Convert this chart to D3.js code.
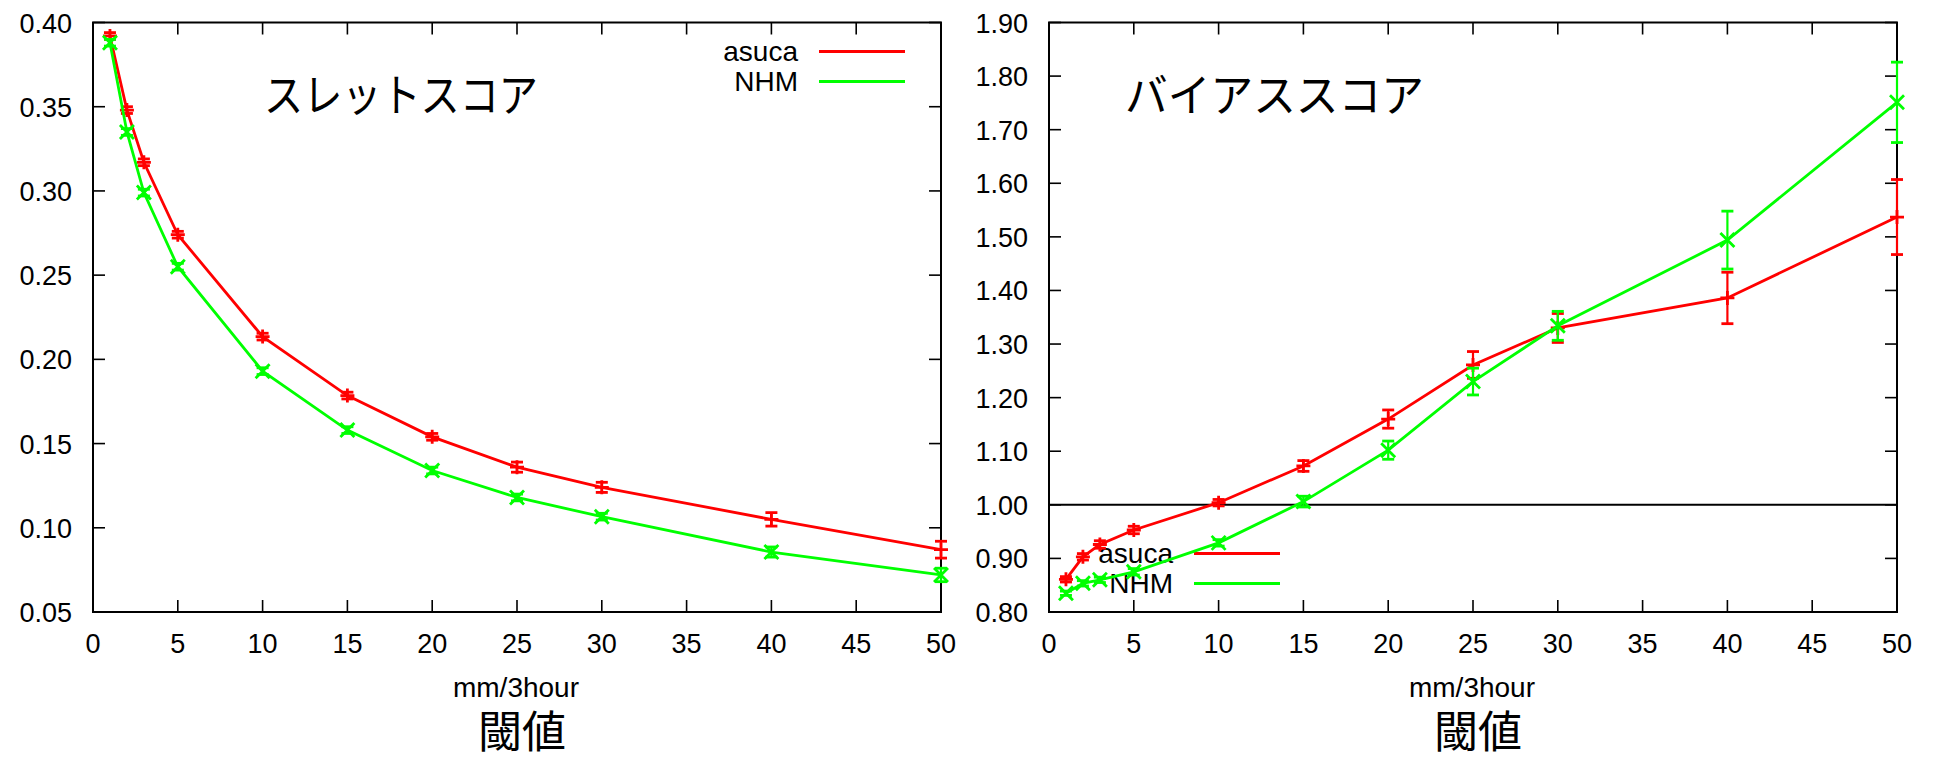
<!DOCTYPE html>
<html>
<head>
<meta charset="utf-8">
<script src="https://cdn.jsdelivr.net/npm/d3@7"></script>
<style>
  body { margin: 0; background: #fff; }
  svg text { font-family: "Liberation Sans", Arial, sans-serif; fill: #000; }
  svg text.jp { font-family: "Noto Sans CJK JP", sans-serif; }
</style>
</head>
<body>
<svg id="chart" width="1936" height="760"></svg>
<script>
// thresholds (mm/3hour)
const thresholds = [1, 2, 3, 5, 10, 15, 20, 25, 30, 40, 50];

// threat score
const threatAsuca    = [0.392, 0.348, 0.317, 0.274, 0.2135, 0.1785, 0.154, 0.136, 0.124, 0.105, 0.087];
const threatAsucaErr = [0.002, 0.002, 0.002, 0.002, 0.002, 0.002, 0.002, 0.003, 0.003, 0.004, 0.005];
const threatNhm      = [0.388, 0.335, 0.299, 0.255, 0.193, 0.158, 0.134, 0.118, 0.1066, 0.0856, 0.072];
const threatNhmErr   = [0.002, 0.002, 0.002, 0.002, 0.002, 0.002, 0.002, 0.002, 0.002, 0.003, 0.004];

// bias score
const biasAsuca    = [0.861, 0.903, 0.926, 0.953, 1.004, 1.0725, 1.160, 1.261, 1.330, 1.386, 1.537];
const biasAsucaErr = [0.005, 0.006, 0.007, 0.007, 0.006, 0.010, 0.017, 0.025, 0.027, 0.048, 0.070];
const biasNhm      = [0.835, 0.8535, 0.860, 0.875, 0.929, 1.006, 1.102, 1.230, 1.334, 1.494, 1.751];
const biasNhmErr   = [0.004, 0.005, 0.005, 0.006, 0.006, 0.010, 0.017, 0.025, 0.027, 0.054, 0.075];

// tick labels
const xTicks = [0, 5, 10, 15, 20, 25, 30, 35, 40, 45, 50];
const threatTicks = [0.05, 0.10, 0.15, 0.20, 0.25, 0.30, 0.35, 0.40];
const biasTicks = [0.80, 0.90, 1.00, 1.10, 1.20, 1.30, 1.40, 1.50, 1.60, 1.70, 1.80, 1.90];

const RED = "#ff0000", GREEN = "#00ff00";
const svg = d3.select("#chart");

function drawPanel(p) {
    const g = svg.append("g");
    const x = d3.scaleLinear().domain([0, 50]).range([p.left, p.right]);
    const y = d3.scaleLinear().domain(p.yDomain).range([p.bottom, p.top]);
    const tl = 12;

    // ticks (inward, mirrored)
    xTicks.forEach(t => {
        g.append("line").attr("x1", x(t)).attr("x2", x(t)).attr("y1", p.bottom).attr("y2", p.bottom - tl)
            .attr("stroke", "#000").attr("stroke-width", 1.6);
        g.append("line").attr("x1", x(t)).attr("x2", x(t)).attr("y1", p.top).attr("y2", p.top + tl)
            .attr("stroke", "#000").attr("stroke-width", 1.6);
        g.append("text").attr("x", x(t)).attr("y", p.bottom + 41)
            .attr("text-anchor", "middle").attr("font-size", 27).text(t);
    });
    p.yTicks.forEach(t => {
        g.append("line").attr("x1", p.left).attr("x2", p.left + tl).attr("y1", y(t)).attr("y2", y(t))
            .attr("stroke", "#000").attr("stroke-width", 1.6);
        g.append("line").attr("x1", p.right).attr("x2", p.right - tl).attr("y1", y(t)).attr("y2", y(t))
            .attr("stroke", "#000").attr("stroke-width", 1.6);
        g.append("text").attr("x", p.left - 21).attr("y", y(t) + 10)
            .attr("text-anchor", "end").attr("font-size", 27).text(t.toFixed(2));
    });

    // frame
    g.append("rect").attr("x", p.left).attr("y", p.top)
        .attr("width", p.right - p.left).attr("height", p.bottom - p.top)
        .attr("fill", "none").attr("stroke", "#000").attr("stroke-width", 2);

    if (p.refLine !== undefined) {
        g.append("line").attr("x1", p.left).attr("x2", p.right)
            .attr("y1", y(p.refLine)).attr("y2", y(p.refLine))
            .attr("stroke", "#000").attr("stroke-width", 2);
    }

    // titles
    g.append("text").attr("class", "jp").attr("x", p.titleX).attr("y", 112)
        .attr("font-size", 45).attr("textLength", p.titleLen).attr("lengthAdjust", "spacingAndGlyphs")
        .text(p.title);
    const mid = (p.left + p.right) / 2;
    g.append("text").attr("x", mid - 1).attr("y", 697).attr("text-anchor", "middle")
        .attr("font-size", 28).text("mm/3hour");
    g.append("text").attr("class", "jp").attr("x", mid + 5).attr("y", 748).attr("text-anchor", "middle")
        .attr("font-size", 44).text("閾値");

    const line = d3.line().x(d => x(d.t)).y(d => y(d.v));

    p.series.forEach((s, i) => {
        // key entry
        const ky = p.keyY + i * 30;
        g.append("text").attr("x", p.keyX).attr("y", ky + 9).attr("text-anchor", "end")
            .attr("font-size", 28).text(s.name);
        g.append("line").attr("x1", p.keyX + 21).attr("x2", p.keyX + 107).attr("y1", ky).attr("y2", ky)
            .attr("stroke", s.color).attr("stroke-width", 2.8);

        const pts = thresholds.map((t, j) => ({ t: t, v: s.values[j], e: s.err[j] }));
        g.append("path").datum(pts).attr("d", line)
            .attr("fill", "none").attr("stroke", s.color).attr("stroke-width", 2.8);

        const cap = 6;
        pts.forEach(d => {
            const cx = x(d.t), y0 = y(d.v - d.e), y1 = y(d.v + d.e);
            g.append("line").attr("x1", cx).attr("x2", cx).attr("y1", y0).attr("y2", y1)
                .attr("stroke", s.color).attr("stroke-width", 2.2);
            [y0, y1].forEach(yy => g.append("line").attr("x1", cx - cap).attr("x2", cx + cap)
                .attr("y1", yy).attr("y2", yy).attr("stroke", s.color).attr("stroke-width", 2.8));
            // point marker
            const m = 7, cy = y(d.v);
            if (s.marker === "plus") {
                g.append("path").attr("d", `M${cx - m},${cy}H${cx + m}M${cx},${cy - m}V${cy + m}`)
                    .attr("stroke", s.color).attr("stroke-width", 2.8).attr("fill", "none");
            } else {
                g.append("path").attr("d", `M${cx - m},${cy - m}L${cx + m},${cy + m}M${cx - m},${cy + m}L${cx + m},${cy - m}`)
                    .attr("stroke", s.color).attr("stroke-width", 2.8).attr("fill", "none");
            }
        });
    });
}

drawPanel({
    left: 93, right: 941, top: 22.5, bottom: 612,
    yDomain: [0.05, 0.40], yTicks: threatTicks,
    title: "スレットスコア", titleX: 264, titleLen: 274,
    keyX: 798, keyY: 51.5,
    series: [
        { name: "asuca", color: RED, values: threatAsuca, err: threatAsucaErr, marker: "plus" },
        { name: "NHM", color: GREEN, values: threatNhm, err: threatNhmErr, marker: "cross" }
    ]
});

drawPanel({
    left: 1049, right: 1897, top: 22.5, bottom: 612,
    yDomain: [0.80, 1.90], yTicks: biasTicks, refLine: 1.0,
    title: "バイアススコア", titleX: 1125, titleLen: 299,
    keyX: 1173, keyY: 553.5,
    series: [
        { name: "asuca", color: RED, values: biasAsuca, err: biasAsucaErr, marker: "plus" },
        { name: "NHM", color: GREEN, values: biasNhm, err: biasNhmErr, marker: "cross" }
    ]
});
</script>
</body>
</html>
